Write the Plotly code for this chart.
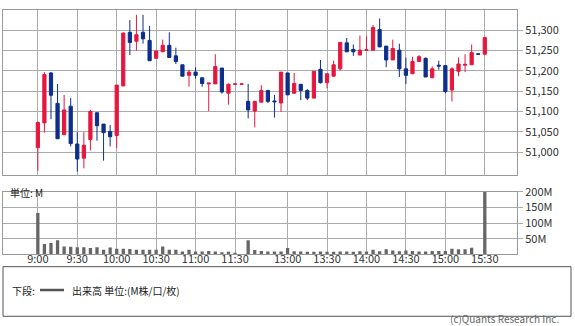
import plotly.graph_objects as go

# ---------------- data ----------------
times = ["9:00", "9:05", "9:10", "9:15", "9:20", "9:25", "9:30", "9:35", "9:40", "9:45",
         "9:50", "9:55", "10:00", "10:05", "10:10", "10:15", "10:20", "10:25", "10:30", "10:35",
         "10:40", "10:45", "10:50", "10:55", "11:00", "11:05", "11:10", "11:15", "11:20", "11:25",
         "11:30", "12:25", "12:30", "12:35", "12:40", "12:45", "12:50", "12:55", "13:00", "13:05",
         "13:10", "13:15", "13:20", "13:25", "13:30", "13:35", "13:40", "13:45", "13:50", "13:55",
         "14:00", "14:05", "14:10", "14:15", "14:20", "14:25", "14:30", "14:35", "14:40", "14:45",
         "14:50", "14:55", "15:00", "15:05", "15:10", "15:15", "15:20", "15:25", "15:30"]

opens = [51011, 51072, 51195, 51120, 51043, 51113, 51020, 50985, 51031, 51097,
         51069, 51051, 51041, 51163, 51295, 51273, 51295, 51275, 51231, 51247,
         51263, 51237, 51215, 51189, 51197, 51183, 51168, 51168, 51207, 51145,
         51167, 51167, 51125, 51101, 51123, 51152, 51126, 51121, 51195, 51145,
         51167, 51152, 51133, 51204, 51171, 51187, 51205, 51269, 51253, 51239,
         51251, 51251, 51302, 51261, 51227, 51251, 51205, 51193, 51223, 51231,
         51183, 51214, 51213, 51153, 51199, 51214, 51215, 51242, 51241]
highs = [51075, 51197, 51197, 51168, 51141, 51133, 51049, 51049, 51104, 51097,
         51069, 51067, 51165, 51295, 51325, 51338, 51338, 51311, 51249, 51277,
         51295, 51257, 51215, 51203, 51209, 51183, 51170, 51241, 51207, 51169,
         51168, 51168, 51168, 51125, 51165, 51152, 51141, 51197, 51195, 51195,
         51167, 51155, 51199, 51227, 51193, 51225, 51270, 51281, 51265, 51287,
         51285, 51313, 51329, 51261, 51277, 51267, 51233, 51235, 51239, 51233,
         51211, 51225, 51213, 51209, 51233, 51241, 51265, 51242, 51282]
lows = [50954, 51048, 51081, 51033, 51043, 51014, 50952, 50960, 51004, 51028,
        50979, 51014, 51010, 51163, 51239, 51250, 51267, 51225, 51231, 51247,
        51233, 51217, 51187, 51161, 51181, 51161, 51101, 51168, 51144, 51117,
        51167, 51167, 51083, 51061, 51123, 51121, 51085, 51099, 51141, 51144,
        51128, 51128, 51133, 51169, 51157, 51187, 51201, 51247, 51237, 51239,
        51250, 51251, 51259, 51209, 51227, 51185, 51168, 51193, 51223, 51185,
        51183, 51203, 51145, 51125, 51187, 51197, 51215, 51241, 51241]
closes = [51073, 51191, 51140, 51033, 51104, 51021, 50983, 51017, 51100, 51065,
          51048, 51038, 51165, 51293, 51270, 51289, 51279, 51225, 51249, 51263,
          51233, 51223, 51187, 51197, 51189, 51169, 51170, 51211, 51148, 51167,
          51168, 51168, 51104, 51125, 51152, 51125, 51124, 51197, 51141, 51169,
          51152, 51133, 51199, 51171, 51193, 51215, 51270, 51247, 51247, 51251,
          51252, 51307, 51259, 51227, 51255, 51205, 51189, 51223, 51235, 51185,
          51205, 51212, 51149, 51205, 51217, 51216, 51245, 51241, 51282]

volume_m = [132, 33, 36, 45, 25, 24, 23, 23, 20, 23,
            15, 22, 18, 18, 17, 15, 15, 15, 15, 25,
            15, 15, 9, 15, 9, 9, 11, 9, 7, 8,
            3, 0, 45, 14, 11, 9, 9, 9, 20, 10,
            9, 8, 8, 9, 8, 8, 9, 9, 8, 10,
            9, 15, 10, 16, 12, 10, 12, 11, 9, 9,
            11, 11, 11, 18, 16, 16, 21, 0, 207]

tick_labels = ["9:00", "9:30", "10:00", "10:30", "11:00", "11:30",
               "13:00", "13:30", "14:00", "14:30", "15:00", "15:30"]
price_ticks = [51000, 51050, 51100, 51150, 51200, 51250, 51300]
volume_ticks = [50, 100, 150, 200]
volume_tick_text = ["50M", "100M", "150M", "200M"]

# ---------------- figure ----------------
W, H = 575, 326
ML, MR = 3, 58
PW = W - ML - MR
RED = "#e5173f"
BLUE = "#0c2e8c"
GRID = "#ababab"
BORDER = "#9a9a9a"
FONT = "Noto Sans CJK JP"

xpos = list(range(len(times)))
tickpos = [times.index(t) for t in tick_labels]


def px_x(p):
    return (p - ML) / PW


def px_y(p):
    return 1 - p / H


fig = go.Figure()
fig.add_trace(go.Candlestick(
    x=xpos, open=opens, high=highs, low=lows, close=closes,
    xaxis="x", yaxis="y",
    increasing=dict(line=dict(color=RED, width=1), fillcolor=RED),
    decreasing=dict(line=dict(color=BLUE, width=1), fillcolor=BLUE),
    whiskerwidth=0, showlegend=False, hoverinfo="skip",
))
fig.add_trace(go.Bar(
    x=xpos, y=volume_m, xaxis="x2", yaxis="y2",
    marker=dict(color="#666666", line=dict(width=0)), width=0.5,
    showlegend=False, hoverinfo="skip",
))

xrange = [-5.3, 72.9]
common_x = dict(range=xrange, tickvals=tickpos, showgrid=True, gridcolor=GRID, gridwidth=1,
                showline=True, mirror=True, linecolor=BORDER, linewidth=1, zeroline=False,
                ticks="", fixedrange=True)
common_y = dict(side="right", showgrid=True, gridcolor=GRID, gridwidth=1, showline=True,
                mirror=True, linecolor=BORDER, linewidth=1, zeroline=False,
                ticks="outside", ticklen=5, tickcolor=GRID,
                tickfont=dict(family=FONT, size=11, color="#333333"))

fig.update_layout(
    width=W, height=H,
    margin=dict(l=ML, r=MR, t=0, b=0),
    paper_bgcolor="white", plot_bgcolor="white",
    font=dict(family=FONT, size=11, color="#333333"),
    xaxis=dict(**common_x, domain=[0, 1], anchor="y", showticklabels=False,
               rangeslider=dict(visible=False)),
    yaxis=dict(**common_y, domain=[px_y(171), px_y(1)], anchor="x",
               range=[50943, 51350], tickvals=price_ticks, tickformat=",d"),
    xaxis2=dict(**common_x, domain=[0, 1], anchor="y2", showticklabels=True,
                ticktext=tick_labels, ticklabelstandoff=-6,
                tickfont=dict(family=FONT, size=11, color="#333333")),
    yaxis2=dict(**common_y, domain=[px_y(252.3), px_y(188)], anchor="x2",
                range=[0, 200], tickvals=volume_ticks, ticktext=volume_tick_text),
    shapes=[
        dict(type="rect", xref="paper", yref="paper",
             x0=px_x(3), x1=px_x(571), y0=px_y(316), y1=px_y(265),
             line=dict(color="#555555", width=1), fillcolor="rgba(0,0,0,0)"),
        dict(type="line", xref="paper", yref="paper",
             x0=px_x(40), x1=px_x(64), y0=px_y(289), y1=px_y(289),
             line=dict(color="#555555", width=2.5)),
    ],
    annotations=[
        dict(text="単位: M", xref="paper", yref="paper", x=px_x(8), y=px_y(189),
             xanchor="left", yanchor="middle", showarrow=False,
             font=dict(family=FONT, size=10, color="#222222")),
        dict(text="下段:", xref="paper", yref="paper", x=px_x(10), y=px_y(289),
             xanchor="left", yanchor="middle", showarrow=False,
             font=dict(family=FONT, size=10, color="#222222")),
        dict(text="出来高 単位:(M株/口/枚)", xref="paper", yref="paper", x=px_x(70), y=px_y(289),
             xanchor="left", yanchor="middle", showarrow=False,
             font=dict(family=FONT, size=10, color="#222222")),
        dict(text="(c)Quants Research Inc.", xref="paper", yref="paper", x=px_x(561), y=px_y(318.5),
             xanchor="right", yanchor="middle", showarrow=False,
             font=dict(family=FONT, size=10, color="#666666")),
    ],
)

fig.write_html("out.html")
